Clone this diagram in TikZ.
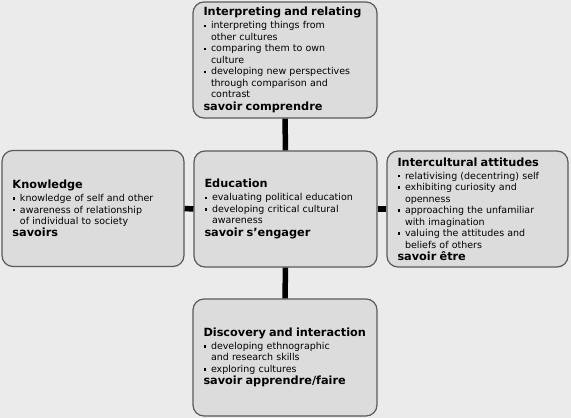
\documentclass[tikz,border=0pt]{standalone}
\usepackage{fontspec}
\setmainfont{DejaVu Sans}
\definecolor{bggray}{HTML}{EBEBEB}
\definecolor{boxgray}{HTML}{DCDCDC}
\definecolor{edgegray}{HTML}{5A5A5A}
\newcommand{\bul}{\makebox[7.5pt][l]{\rule[1.7pt]{2.4pt}{2.4pt}}}
\newcommand{\cnt}{\hspace*{7.5pt}}
\newcommand{\hd}[1]{\mbox{\fontsize{11.3}{11.3}\selectfont\bfseries #1}}

\begin{document}
\begin{tikzpicture}[x=1pt, y=-1pt,
	box/.style={draw=edgegray, line width=1.2pt, fill=boxgray, rounded corners=11pt,
		text width=#1, inner xsep=10.5pt, inner ysep=0pt, minimum height=116pt, align=left,
		font=\fontsize{9.5}{11.5}\selectfont},
	box/.default=162pt,
	link/.style={line width=5.5pt, black}]
	\fill[bggray] (0,0) rectangle (571,418);
	% the five competence boxes
	\node[box=163pt] (interp) at (285,60) {\hd{Interpreting and relating}\\[1.5pt]
		\bul interpreting things from\\ \cnt other cultures\\
		\bul comparing them to own\\ \cnt culture\\
		\bul developing new perspectives\\ \cnt through comparison and\\ \cnt contrast\\[0.8pt]
		\hd{savoir comprendre}};
	\node[box=161pt] (know) at (93,208.5) {\hd{Knowledge}\\[1.5pt]
		\bul knowledge of self and other\\
		\bul awareness of relationship\\ \cnt of individual to society\\[0.8pt]
		\hd{savoirs}};
	\node[box] (educ) at (285.5,209) {\hd{Education}\\[1.5pt]
		\bul evaluating political education\\
		\bul developing critical cultural\\ \cnt awareness\\[0.8pt]
		\hd{savoir s’engager}};
	\node[box=160pt] (attit) at (477.5,209) {\hd{Intercultural attitudes}\\[1.5pt]
		\bul relativising (decentring) self\\
		\bul exhibiting curiosity and\\ \cnt openness\\
		\bul approaching the unfamiliar\\ \cnt with imagination\\
		\bul valuing the attitudes and\\ \cnt beliefs of others\\[0.8pt]
		\hd{savoir être}};
	\node[box=163pt, minimum height=117pt] (disc) at (285,357.5) {\hd{Discovery and interaction}\\[1.5pt]
		\bul developing ethnographic\\ \cnt and research skills\\
		\bul exploring cultures\\[0.8pt]
		\hd{savoir apprendre/faire}};
	% links
	\draw[link] (interp.south) -- (educ.north);
	\draw[link] (educ.south) -- (disc.north);
	\draw[link] (know.east) -- (educ.west);
	\draw[link] (educ.east) -- (attit.west);
\end{tikzpicture}
\end{document}
